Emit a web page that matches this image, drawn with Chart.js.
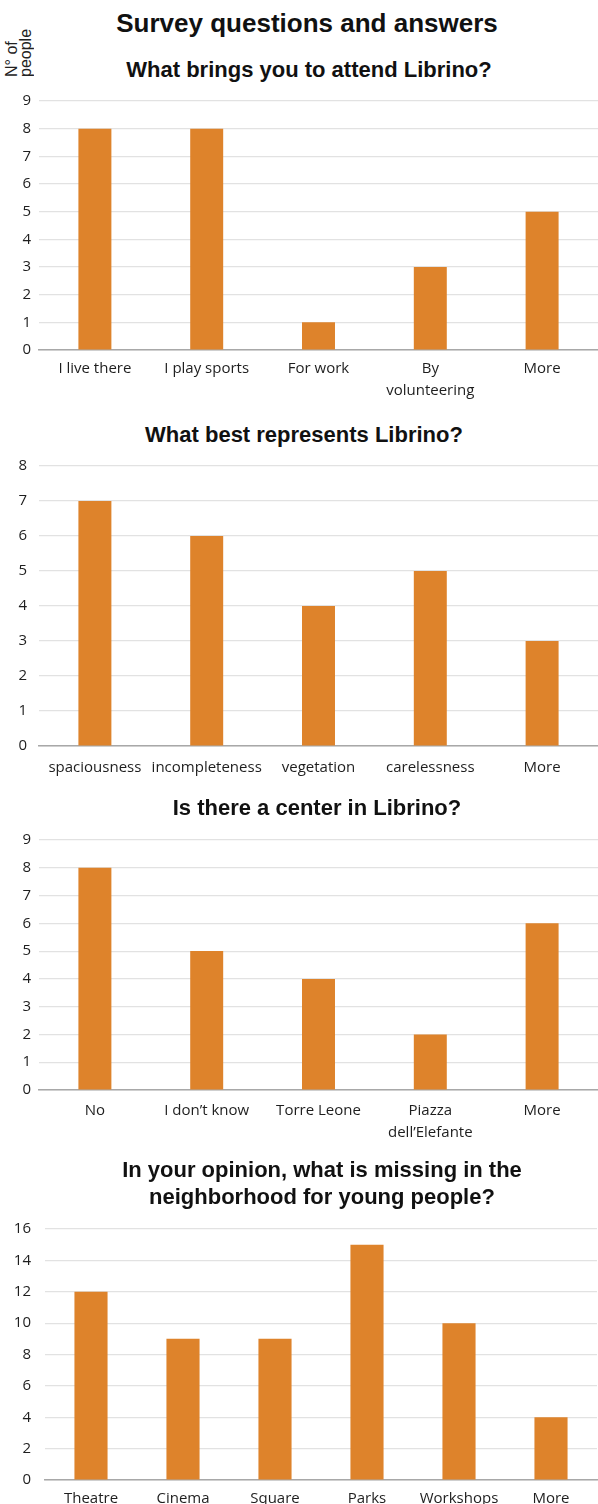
<!DOCTYPE html>
<html>
<head>
<meta charset="utf-8">
<script src="https://cdn.jsdelivr.net/npm/chart.js@4.4.1/dist/chart.umd.min.js"></script>
<style>
  html, body { margin: 0; padding: 0; background: #fff; }
  body { width: 598px; height: 1504px; position: relative; overflow: hidden; font-family: "Liberation Sans", Arial, sans-serif; color: #111; }
  .title { position: absolute; white-space: nowrap; font-weight: bold; text-align: center; }
  .main { font-size: 26px; line-height: 30px; }
  .sub { font-size: 22px; line-height: 27px; }
  .box { position: absolute; left: 0; width: 598px; }
  #ylab { position: absolute; left: 5px; top: 17px; height: 60px; width: 30px; font-size: 16px; line-height: 14px;
          writing-mode: vertical-rl; transform: rotate(180deg); text-align: left; color: #222; }
</style>
</head>
<body>
<div class="title main" style="left:107px;width:400px;top:8px;">Survey questions and answers</div>
<div id="ylab">N° of<br>people</div>

<div class="title sub" style="left:59px;width:500px;top:56px;">What brings you to attend Librino?</div>
<div class="box" style="top:84px;height:326px;"><canvas id="c1"></canvas></div>

<div class="title sub" style="left:54px;width:500px;top:421px;">What best represents Librino?</div>
<div class="box" style="top:445px;height:361px;"><canvas id="c2"></canvas></div>

<div class="title sub" style="left:67px;width:500px;top:794px;">Is there a center in Librino?</div>
<div class="box" style="top:823px;height:327px;"><canvas id="c3"></canvas></div>

<div class="title sub" style="left:72px;width:500px;top:1156px;">In your opinion, what is missing in the<br>neighborhood for young people?</div>
<div class="box" style="top:1206px;height:304px;"><canvas id="c4"></canvas></div>

<script>
// question 1
const attendLabels = ['I live there', 'I play sports', 'For work', ['By', 'volunteering'], 'More'];
const attendValues = [8, 8, 1, 3, 5];
// question 2
const representLabels = ['spaciousness', 'incompleteness', 'vegetation', 'carelessness', 'More'];
const representValues = [7, 6, 4, 5, 3];
// question 3
const centerLabels = ['No', 'I don’t know', 'Torre Leone', ['Piazza', 'dell’Elefante'], 'More'];
const centerValues = [8, 5, 4, 2, 6];
// question 4
const missingLabels = ['Theatre', 'Cinema', 'Square', 'Parks', 'Workshops', 'More'];
const missingValues = [12, 9, 9, 15, 10, 4];

const BAR = '#DE832B';
const tickFont = { family: '"Open Sans", sans-serif', size: 15 };

function makeChart(id, labels, values, yMax, step, o) {
  return new Chart(document.getElementById(id), {
    type: 'bar',
    data: {
      labels: labels,
      datasets: [{
        data: values,
        backgroundColor: BAR,
        borderWidth: 0,
        barPercentage: o.bar,
        categoryPercentage: 1
      }]
    },
    options: {
      responsive: true,
      maintainAspectRatio: false,
      animation: false,
      layout: { padding: { top: 4, left: o.left, right: o.right, bottom: 0 } },
      plugins: { legend: { display: false }, tooltip: { enabled: false } },
      scales: {
        x: {
          grid: { display: false, drawTicks: false },
          border: { color: '#a8a8a8', width: 1.5 },
          ticks: { color: '#1e1e1e', font: Object.assign({ lineHeight: 1.45 }, tickFont), padding: o.xpad, maxRotation: 0, autoSkip: false },
          afterFit: function(scale) { scale.height = o.xh; }
        },
        y: {
          min: 0,
          max: yMax,
          grid: { color: '#e2e2e2', drawTicks: false, lineWidth: 1.2 },
          border: { display: false },
          ticks: { stepSize: step, color: '#1e1e1e', font: tickFont, padding: o.ypad },
          afterFit: function(scale) { scale.width = o.yw; }
        }
      }
    }
  });
}

makeChart('c1', attendLabels, attendValues, 9, 1, { bar: 0.295, left: 0, right: 0, xh: 60, yw: 39, ypad: 8, xpad: 8 });
makeChart('c2', representLabels, representValues, 8, 1, { bar: 0.295, left: 0, right: 0, xh: 60, yw: 39, ypad: 12, xpad: 11 });
makeChart('c3', centerLabels, centerValues, 9, 1, { bar: 0.295, left: 0, right: 0, xh: 60, yw: 39, ypad: 8, xpad: 10 });
makeChart('c4', missingLabels, missingValues, 16, 2, { bar: 0.36, left: 0, right: 1, xh: 30, yw: 45, ypad: 14, xpad: 8 });
</script>
</body>
</html>
